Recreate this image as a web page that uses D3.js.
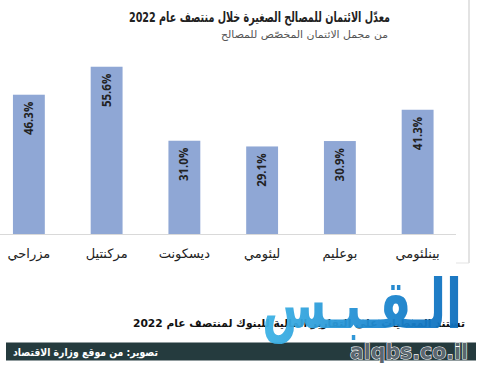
<!DOCTYPE html>
<html><head><meta charset="utf-8">
<script src="https://cdn.jsdelivr.net/npm/d3@7"></script>
<style>html,body{margin:0;padding:0;background:#fff;}svg{display:block;}</style>
</head><body>
<svg id="c" width="478" height="366"></svg>
<script>
const categories = ["مزراحي","مركنتيل","ديسكونت","ليئومي","بوعليم","بينلئومي"];
const values = [46.3, 55.6, 31.0, 29.1, 30.9, 41.3];
const valueLabels = ["46.3%","55.6%","31.0%","29.1%","30.9%","41.3%"];
const titleText = "معدّل الائتمان للمصالح الصغيرة خلال منتصف عام 2022";
const subtitleText = "من مجمل الائتمان المخصّص للمصالح";
const captionText = "تستند المعطيات على التقارير المالية للبنوك لمنتصف عام 2022";
const creditText = "تصوير: من موقع وزارة الاقتصاد";

const svg = d3.select("#c");
const arabicFont = "'DejaVu Sans', sans-serif";

// fit a text between left and right edges
function fitText(sel, left, right) {
  sel.attr("x", left).attr("text-anchor","start")
     .attr("textLength", right - left).attr("lengthAdjust","spacingAndGlyphs");
  return sel;
}

// frame lines
svg.append("line").attr("x1",469).attr("x2",469).attr("y1",0).attr("y2",263)
  .attr("stroke","#e3e3e3").attr("stroke-width",2);
svg.append("line").attr("x1",456).attr("x2",469).attr("y1",263).attr("y2",263)
  .attr("stroke","#e3e3e3").attr("stroke-width",1);

// titles
fitText(svg.append("text").attr("y",22)
  .style("font-family",arabicFont).style("font-weight","bold").style("font-size","14px")
  .attr("fill","#222").text(titleText), 129, 390);
fitText(svg.append("text").attr("y",38)
  .style("font-family",arabicFont).style("font-size","10px")
  .attr("fill","#555").text(subtitleText), 221, 388);

const x = d3.scaleBand().domain(categories).range([-10, 456.5]).padding(0);
const y = d3.scaleLinear().domain([0, 60]).range([234, 53.5]);
const barW = x.bandwidth() * 0.41;

svg.append("g").selectAll("rect").data(values).join("rect")
  .attr("x",(d,i)=>x(categories[i]) + (x.bandwidth()-barW)/2)
  .attr("y",d=>y(d)).attr("width",barW).attr("height",d=>y(0)-y(d))
  .attr("fill","#8FA7D5");

// baseline axis
const axis = svg.append("g").attr("transform","translate(0,234)")
  .call(d3.axisBottom(x).tickSize(0).tickPadding(12));
axis.select(".domain").attr("stroke","#d9d9d9").attr("d","M0,0.5H456");
axis.selectAll("text").style("font-family",arabicFont).style("font-size","13px")
  .attr("fill","#222").attr("dy","0.9em");

// value labels rotated
svg.append("g").selectAll("text").data(values).join("text")
  .attr("transform",(d,i)=>`translate(${x(categories[i])+x.bandwidth()/2+4},${y(d)+7}) rotate(-90)`)
  .attr("text-anchor","end")
  .style("font-family","'Open Sans', sans-serif").style("font-weight","bold").style("font-size","11.5px")
  .attr("fill","#222").text((d,i)=>valueLabels[i]);

// caption
fitText(svg.append("text").attr("y",327)
  .style("font-family",arabicFont).style("font-weight","bold").style("font-size","11px")
  .attr("fill","#111").text(captionText), 133, 465);

// dark credit bar
svg.append("rect").attr("x",6).attr("y",342.5).attr("width",470).attr("height",18).attr("fill","#253b3e");
fitText(svg.append("text").attr("y",356)
  .style("font-family",arabicFont).style("font-weight","bold").style("font-size","11px")
  .attr("fill","#fff").text(creditText), 13, 158);

// watermark logo
const defs = svg.append("defs");
const g = defs.append("linearGradient").attr("id","lg").attr("x1","0").attr("x2","1").attr("y1","0").attr("y2","0");
g.append("stop").attr("offset","0").attr("stop-color","#3fb4e6");
g.append("stop").attr("offset","0.6").attr("stop-color","#1e88d0");
g.append("stop").attr("offset","1").attr("stop-color","#0f6fbd");
fitText(svg.append("text").attr("y",328)
  .style("font-family",arabicFont).style("font-weight","bold").style("font-size","68px")
  .attr("fill","url(#lg)").attr("opacity",0.95).text("الـقـبـس"), 262, 462);
fitText(svg.append("text").attr("y",359)
  .style("font-family","'DejaVu Sans', sans-serif").style("font-weight","bold").style("font-size","22px")
  .attr("fill","#5b6770").attr("stroke","#fff").attr("stroke-width",1.2).attr("paint-order","stroke")
  .text("alqbs.co.il"), 350, 468);
</script>
</body></html>
